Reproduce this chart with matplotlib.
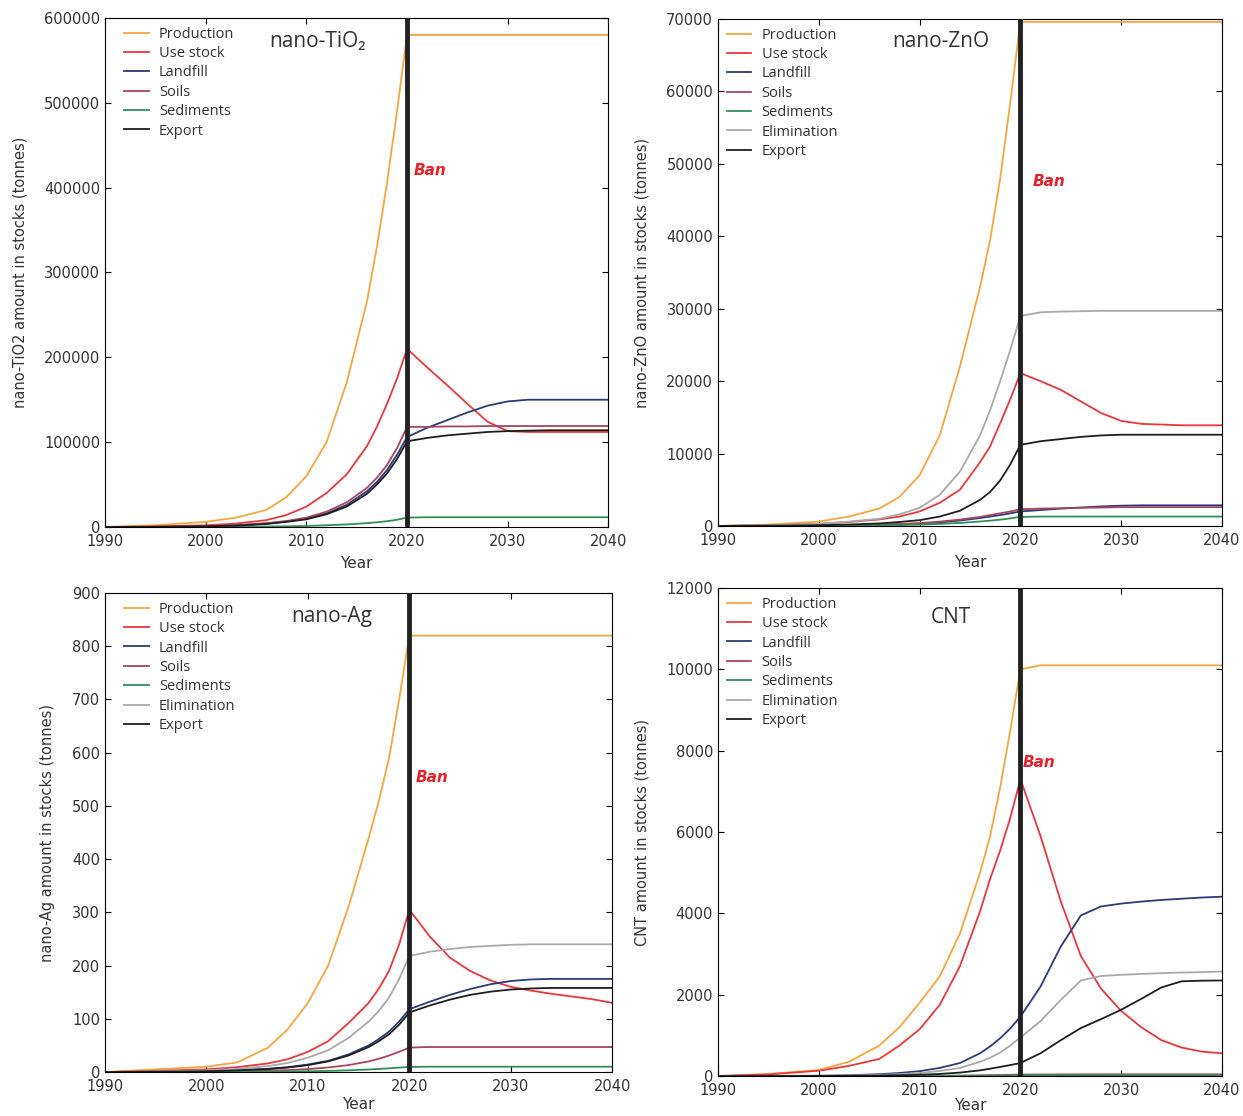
import matplotlib
matplotlib.use('Agg')
import matplotlib.pyplot as plt
from matplotlib.ticker import ScalarFormatter

# common time grid (years)
years = [1990, 1995, 2000, 2003, 2006, 2008, 2010, 2012, 2014, 2016, 2017, 2018, 2019, 2020,
         2022, 2024, 2026, 2028, 2030, 2032, 2034, 2036, 2038, 2040]

# nano-TiO2 stocks (tonnes)
tio2_production = [0, 2000, 6000, 11000, 20000, 35000, 60000, 100000, 170000, 265000, 330000, 405000, 490000, 580000,
                   580000, 580000, 580000, 580000, 580000, 580000, 580000, 580000, 580000, 580000]
tio2_use_stock = [0, 500, 2000, 4000, 8000, 14000, 24000, 40000, 62000, 95000, 118000, 145000, 175000, 210000,
                  188000, 167000, 145000, 124000, 113000, 112000, 112000, 112000, 112000, 112000]
tio2_landfill = [0, 200, 800, 1800, 4000, 6500, 10000, 16000, 26000, 42000, 53000, 67000, 85000, 106000,
                 117000, 126000, 135000, 143000, 148000, 150000, 150000, 150000, 150000, 150000]
tio2_soils = [0, 200, 900, 2000, 4500, 7000, 11000, 18000, 29000, 46000, 58000, 73000, 93000, 118000,
              118000, 118500, 118500, 119000, 119000, 119000, 119000, 119000, 119000, 119000]
tio2_sediments = [0, 20, 100, 250, 500, 800, 1200, 2000, 3000, 4500, 5500, 6800, 8500, 11000,
                  11500, 11500, 11500, 11500, 11500, 11500, 11500, 11500, 11500, 11500]
tio2_export = [0, 150, 700, 1600, 3500, 6000, 9000, 15000, 24000, 39000, 50000, 63000, 80000, 101000,
               105000, 108000, 110000, 112000, 113000, 113500, 114000, 114000, 114000, 114000]

# nano-ZnO stocks (tonnes)
zno_production = [0, 200, 600, 1300, 2400, 4000, 7000, 12500, 22000, 33000, 39500, 48000, 58500, 69600,
                  69600, 69600, 69600, 69600, 69600, 69600, 69600, 69600, 69600, 69600]
zno_use_stock = [0, 100, 300, 550, 900, 1300, 2000, 3200, 5000, 8800, 11000, 14200, 17500, 21100,
                 20000, 18800, 17200, 15600, 14500, 14100, 14000, 13900, 13900, 13900]
zno_landfill = [0, 10, 40, 80, 150, 230, 330, 500, 750, 1100, 1300, 1500, 1750, 2000,
                2200, 2400, 2550, 2700, 2800, 2850, 2850, 2850, 2850, 2850]
zno_soils = [0, 10, 50, 100, 180, 270, 400, 600, 880, 1250, 1500, 1750, 2000, 2300,
             2400, 2450, 2500, 2550, 2600, 2600, 2600, 2600, 2600, 2600]
zno_sediments = [0, 5, 20, 40, 80, 120, 180, 280, 420, 620, 730, 870, 1050, 1250,
                 1300, 1300, 1300, 1300, 1300, 1300, 1300, 1300, 1300, 1300]
zno_elimination = [0, 100, 300, 600, 1000, 1600, 2500, 4300, 7500, 12500, 16000, 20000, 24300, 29000,
                   29500, 29600, 29650, 29700, 29700, 29700, 29700, 29700, 29700, 29700]
zno_export = [0, 30, 100, 200, 350, 550, 800, 1300, 2100, 3600, 4700, 6300, 8500, 11200,
              11700, 12000, 12300, 12500, 12600, 12600, 12600, 12600, 12600, 12600]

# nano-Ag stocks (tonnes)
ag_production = [0, 5, 10, 18, 45, 80, 130, 200, 310, 440, 510, 590, 700, 820,
                 820, 820, 820, 820, 820, 820, 820, 820, 820, 820]
ag_use_stock = [0, 2, 5, 9, 16, 24, 38, 58, 92, 130, 157, 190, 240, 305,
                255, 215, 190, 172, 160, 153, 147, 142, 137, 130]
ag_landfill = [0, 0.5, 1.5, 3, 6, 9, 14, 21, 33, 50, 62, 76, 95, 118,
               132, 145, 156, 165, 171, 174, 175, 175, 175, 175]
ag_soils = [0, 0.2, 0.6, 1.2, 2.4, 3.6, 5.5, 8.5, 13, 20, 25, 31, 38, 46,
            47, 47, 47, 47, 47, 47, 47, 47, 47, 47]
ag_sediments = [0, 0.05, 0.15, 0.3, 0.6, 0.9, 1.4, 2.1, 3.2, 4.8, 5.8, 7, 8.3, 9.5,
                10, 10, 10, 10, 10, 10, 10, 10, 10, 10]
ag_elimination = [0, 1, 3, 6, 11, 17, 27, 41, 64, 95, 115, 140, 175, 218,
                  226, 231, 235, 237, 239, 240, 240, 240, 240, 240]
ag_export = [0, 0.5, 1.5, 3, 5.5, 8.5, 13, 20, 31, 47, 58, 71, 89, 112,
             125, 136, 145, 151, 155, 157, 158, 158, 158, 158]

# CNT stocks (tonnes)
cnt_production = [0, 50, 150, 350, 750, 1200, 1800, 2450, 3500, 5000, 5900, 7100, 8500, 10000,
                  10100, 10100, 10100, 10100, 10100, 10100, 10100, 10100, 10100, 10100]
cnt_use_stock = [0, 40, 130, 250, 420, 750, 1150, 1750, 2700, 4050, 4850, 5550, 6350, 7300,
                 5900, 4300, 2950, 2150, 1600, 1200, 880, 700, 600, 560]
cnt_landfill = [0, 2, 8, 20, 45, 75, 120, 200, 320, 560, 730, 930, 1170, 1460,
                2200, 3180, 3950, 4170, 4240, 4290, 4330, 4360, 4390, 4410]
cnt_soils = [0, 0.2, 0.5, 1, 2, 3, 5, 8, 12, 18, 22, 26, 31, 36,
             38, 40, 41, 42, 42, 42, 42, 42, 42, 42]
cnt_sediments = [0, 0.05, 0.2, 0.4, 0.8, 1.2, 2, 3, 4.5, 7, 8.5, 10, 12, 14,
                 15, 15, 15, 15, 15, 15, 15, 15, 15, 15]
cnt_elimination = [0, 1, 5, 12, 28, 48, 75, 125, 200, 350, 450, 580, 750, 950,
                   1350, 1870, 2350, 2460, 2490, 2510, 2530, 2545, 2555, 2570]
cnt_export = [0, 0.5, 2, 5, 12, 20, 32, 52, 85, 140, 180, 225, 270, 320,
              560, 880, 1180, 1400, 1630, 1900, 2180, 2330, 2345, 2350]

colors = {'Production': '#f4a640', 'Use stock': '#e8383c', 'Landfill': '#2b3a78',
          'Soils': '#a8455f', 'Sediments': '#2f8f5a', 'Elimination': '#a9a9a9',
          'Export': '#1e1e1e'}

ban_year = 2020
ban_x = [2020.7, 2021.2, 2020.6, 2020.2]
ban_y = [420000, 47500, 554, 7720]


def draw_panel(ax, series, title, title_pos, ylabel, ymax, ystep, ban_pos, leg_x, xpad=5):
    for name, vals in series:
        ax.plot(years, vals, color=colors[name], lw=1.3, label=name)
    ax.axvline(ban_year, color='#222222', lw=3.5, zorder=5)
    ax.text(ban_pos[0], ban_pos[1], 'Ban', color='#e8202a', fontsize=11,
            fontweight='bold', fontstyle='italic', va='center', ha='left')
    ax.text(title_pos[0], title_pos[1], title, transform=ax.transAxes, fontsize=15,
            ha='center', va='center', color='#333333', family=['Open Sans', 'DejaVu Sans'])
    ax.set_xlim(1990, 2040)
    ax.set_ylim(0, ymax)
    ax.set_xticks(range(1990, 2041, 10))
    ax.set_yticks(range(0, ymax + 1, ystep))
    fmt = ScalarFormatter(useOffset=False)
    fmt.set_scientific(False)
    ax.yaxis.set_major_formatter(fmt)
    ax.tick_params(direction='in', top=True, right=True, labelsize=10.5,
                   labelcolor='#333333', length=4)
    ax.tick_params(axis='x', pad=5)
    ax.set_xlabel('Year', fontsize=11, color='#333333', labelpad=xpad)
    ax.set_ylabel(ylabel, fontsize=10.5, color='#333333', labelpad=12)
    leg = ax.legend(loc='upper left', frameon=False, handlelength=1.7, handletextpad=0.7,
                    labelspacing=0.3, borderaxespad=0.2, bbox_to_anchor=(leg_x, 1.0),
                    prop={'family': ['Open Sans', 'DejaVu Sans'], 'size': 10.5})
    for t in leg.get_texts():
        t.set_color('#333333')


fig = plt.figure(figsize=(12.43, 11.16), dpi=100)

ax1 = fig.add_axes([0.0845, 0.5278, 0.405, 0.4561])
draw_panel(ax1, [('Production', tio2_production), ('Use stock', tio2_use_stock),
                 ('Landfill', tio2_landfill), ('Soils', tio2_soils),
                 ('Sediments', tio2_sediments), ('Export', tio2_export)],
           'nano-TiO\u2082', (0.423, 0.953), 'nano-TiO2 amount in stocks (tonnes)',
           600000, 100000, (ban_x[0], ban_y[0]), 0.02)

ax2 = fig.add_axes([0.5776, 0.5287, 0.4055, 0.4543])
draw_panel(ax2, [('Production', zno_production), ('Use stock', zno_use_stock),
                 ('Landfill', zno_landfill), ('Soils', zno_soils),
                 ('Sediments', zno_sediments), ('Elimination', zno_elimination),
                 ('Export', zno_export)],
           'nano-ZnO', (0.442, 0.955), 'nano-ZnO amount in stocks (tonnes)',
           70000, 10000, (ban_x[1], ban_y[1]), 0.0)

ax3 = fig.add_axes([0.0845, 0.0394, 0.408, 0.4292])
draw_panel(ax3, [('Production', ag_production), ('Use stock', ag_use_stock),
                 ('Landfill', ag_landfill), ('Soils', ag_soils),
                 ('Sediments', ag_sediments), ('Elimination', ag_elimination),
                 ('Export', ag_export)],
           'nano-Ag', (0.448, 0.95), 'nano-Ag amount in stocks (tonnes)',
           900, 100, (ban_x[2], ban_y[2]), 0.02, xpad=2)

ax4 = fig.add_axes([0.5776, 0.0358, 0.4055, 0.4373])
draw_panel(ax4, [('Production', cnt_production), ('Use stock', cnt_use_stock),
                 ('Landfill', cnt_landfill), ('Soils', cnt_soils),
                 ('Sediments', cnt_sediments), ('Elimination', cnt_elimination),
                 ('Export', cnt_export)],
           'CNT', (0.462, 0.94), 'CNT amount in stocks (tonnes)',
           12000, 2000, (ban_x[3], ban_y[3]), 0.0, xpad=0)

fig.savefig('out.png', dpi=100)
